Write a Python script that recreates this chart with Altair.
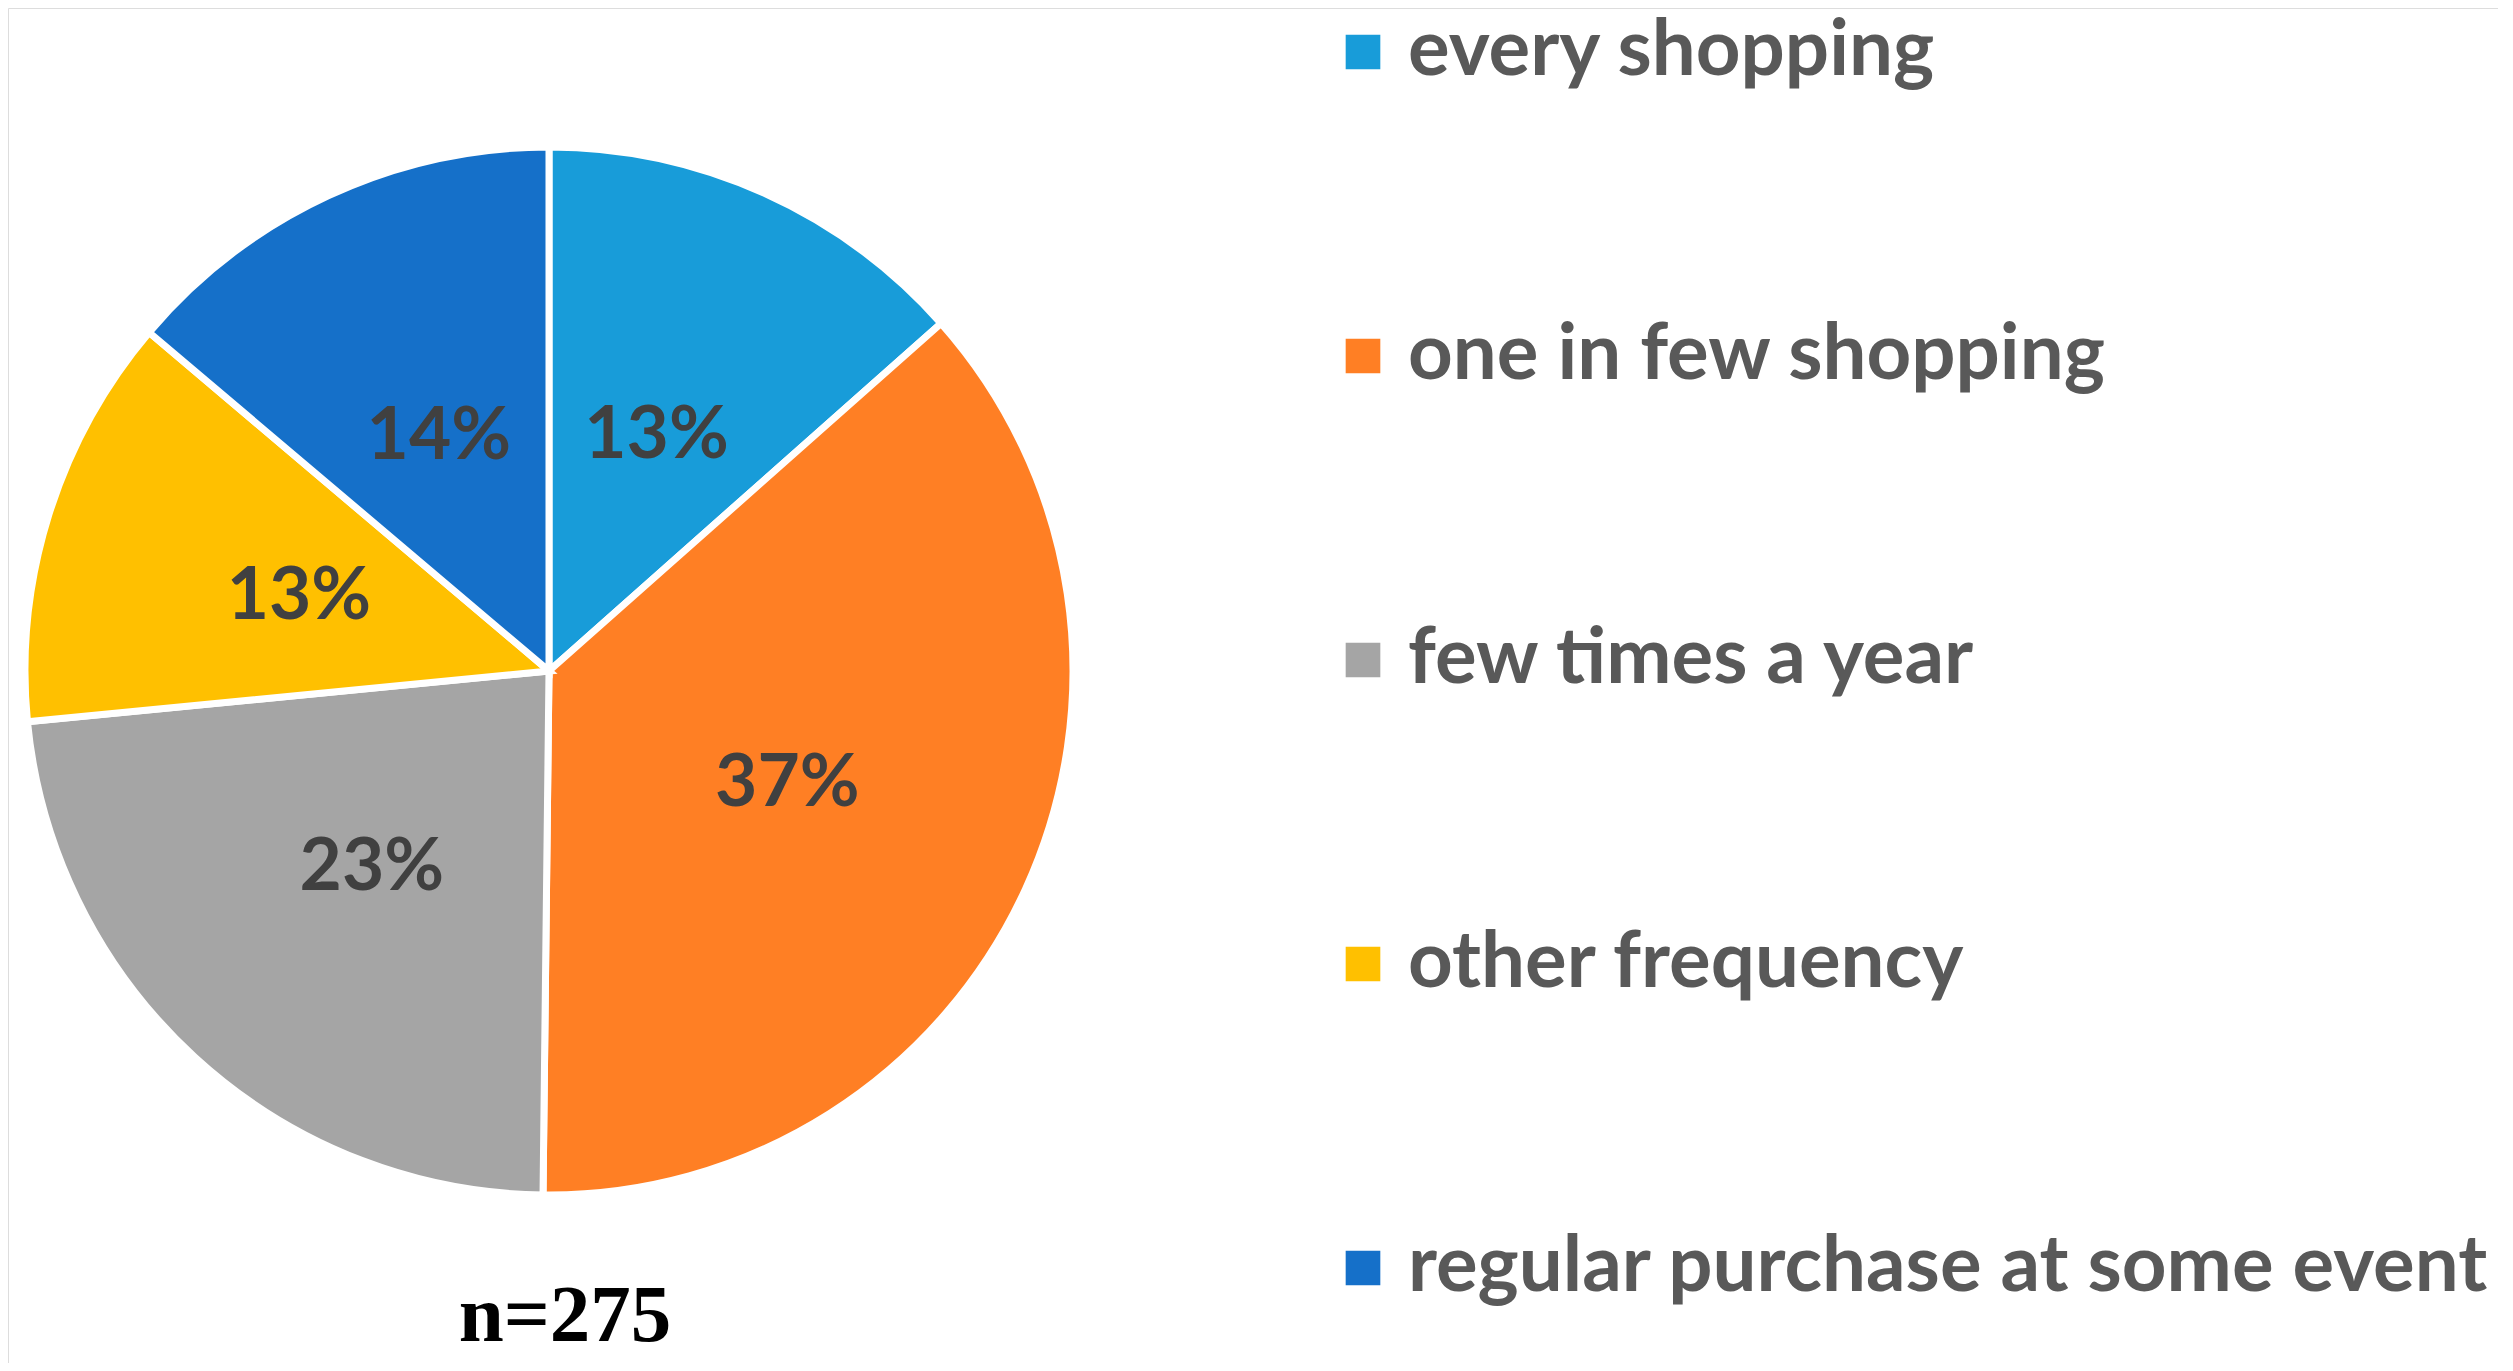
import altair as alt
import pandas as pd

categories = ["every shopping", "one in few shopping", "few times a year",
              "other frequency", "regular purchase at some event"]
counts = [37, 101, 64, 35, 38]
colors = ["#189CD9", "#FF7F24", "#A5A5A5", "#FFC000", "#1570C9"]
n_label = "n=275"

total = sum(counts)
df = pd.DataFrame({
    "category": categories,
    "count": counts,
    "idx": list(range(len(categories))),
    "label": [f"{round(c / total * 100)}%" for c in counts],
})

CX, CY, R = 541, 663, 524

color = alt.Color(
    "category:N",
    sort=categories,
    scale=alt.Scale(domain=categories, range=colors),
    legend=alt.Legend(
        title=None, orient="none", legendX=1316, legendY=5,
        symbolType="square", symbolSize=1200, symbolStrokeWidth=0,
        labelFont="Lato", labelFontWeight="bold", labelFontSize=78,
        labelColor="#595959", labelOffset=6, rowPadding=226,
        labelLimit=2000, symbolOpacity=1,
    ),
)

base = alt.Chart(df).encode(
    theta=alt.Theta("count:Q", stack=True),
    order=alt.Order("idx:Q"),
)

arcs = base.mark_arc(stroke="white", strokeWidth=7).encode(
    color=color,
    x=alt.value(CX), y=alt.value(CY),
    radius=alt.value(R),
)

labels = base.mark_text(
    font="Lato", fontWeight="bold", fontSize=73, color="#404040",
    align="center", baseline="middle",
).encode(
    text="label:N",
    x=alt.value(CX), y=alt.value(CY + 4),
    radius=alt.value(R * 0.5),
)

ntext = alt.Chart(pd.DataFrame({"t": [n_label]})).mark_text(
    font="Liberation Serif", fontWeight="bold", fontSize=81, color="#000000",
    align="center", baseline="alphabetic",
).encode(text="t:N", x=alt.value(557), y=alt.value(1333))

chart = alt.layer(arcs, labels, ntext).properties(
    width=2490, height=1355,
    autosize=alt.AutoSizeParams(type="none"),
    padding=0,
).configure_view(stroke=None).configure(background="white")

chart.save("out.html", embed_options={"renderer": "svg", "actions": False})
